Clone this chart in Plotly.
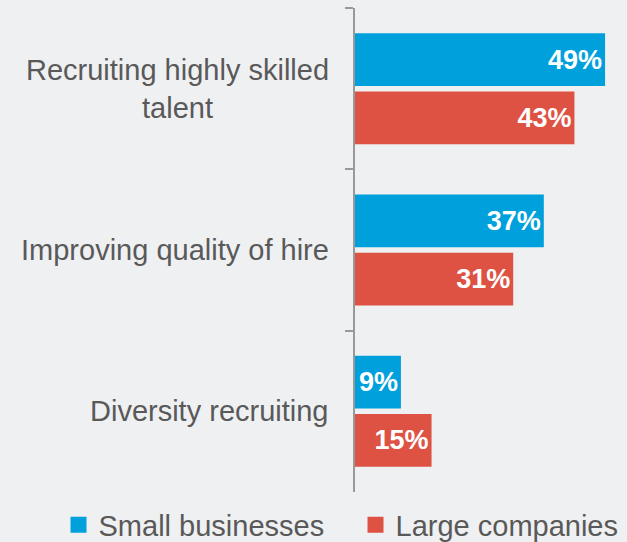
import plotly.graph_objects as go

categories = ["Recruiting highly skilled<br>talent", "Improving quality of hire", "Diversity recruiting"]
small_businesses = [49, 37, 9]
large_companies = [43, 31, 15]
series_names = ["Small businesses", "Large companies"]

BLUE = "#00a0dc"
RED = "#de5244"
BG = "#eff0f2"
TEXT = "#595959"
FONT = "Liberation Sans, Arial, sans-serif"

fig = go.Figure()
for name, vals, col in [(series_names[0], small_businesses, BLUE),
                        (series_names[1], large_companies, RED)]:
    fig.add_trace(go.Bar(
        y=categories, x=vals, name=name, orientation="h",
        marker=dict(color=col, line=dict(width=0)),
        texttemplate="<b>%{x}%</b>", textposition="inside",
        insidetextanchor="end", constraintext="none",
        textfont=dict(family=FONT, size=27, color="white"),
        cliponaxis=False, showlegend=False, legendgroup=name,
    ))
# legend entries with larger square swatches
for name, col in [(series_names[0], BLUE), (series_names[1], RED)]:
    fig.add_trace(go.Scatter(
        x=[None], y=[None], mode="markers", name=name, legendgroup=name,
        marker=dict(symbol="square", size=16, color=col), showlegend=True,
    ))

for c in categories:
    fig.add_annotation(x=0, xref="paper", y=c, yref="y", text=c,
                       xanchor="right", yanchor="middle", align="center",
                       xshift=-24, showarrow=False,
                       font=dict(family=FONT, size=29, color=TEXT))

fig.update_layout(
    width=627, height=542,
    paper_bgcolor=BG, plot_bgcolor=BG,
    margin=dict(l=355, r=0, t=8, b=50, autoexpand=False),
    barmode="group", bargap=0.278, bargroupgap=0.094,
    showlegend=True,
    legend=dict(orientation="h", x=-1.09, xanchor="left", y=-0.068, yanchor="middle",
                font=dict(family=FONT, size=29, color=TEXT), itemsizing="trace",
                bgcolor="rgba(0,0,0,0)", entrywidth=252, entrywidthmode="pixels"),
    xaxis=dict(range=[0, 53.3], visible=False, fixedrange=True),
    yaxis=dict(type="category", autorange="reversed", showticklabels=False,
               ticks="outside", tickson="boundaries", ticklen=8, tickwidth=2,
               tickcolor="#999999", showline=True, linecolor="#999999", linewidth=2,
               showgrid=False, zeroline=False, fixedrange=True),
)

fig.write_html("out.html", config={"displayModeBar": False},
               post_script="document.body.style.margin='0';document.body.style.background='#eff0f2';")
